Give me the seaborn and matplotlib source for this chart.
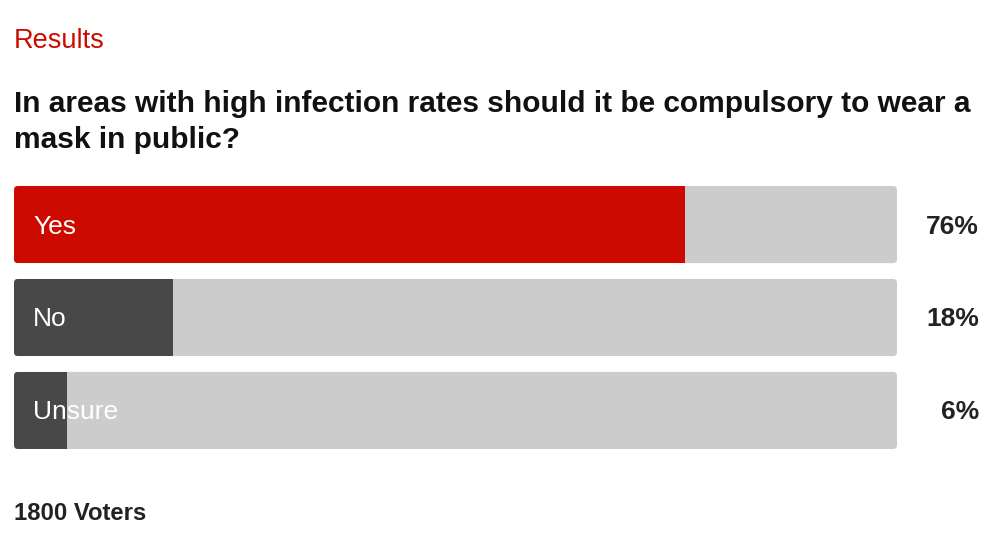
import matplotlib
matplotlib.use("Agg")
import matplotlib.pyplot as plt
from matplotlib.patches import FancyBboxPatch
import matplotlib.transforms as mtransforms
import seaborn as sns
import pandas as pd

categories = ["Yes", "No", "Unsure"]
values = [76, 18, 6]
pct_labels = ["76%", "18%", "6%"]
bar_colors = ["#cc0a00", "#484848", "#484848"]
voters_text = "1800 Voters"
title_text = "In areas with high infection rates should it be compulsory to wear a\nmask in public?"
header_text = "Results"

sns.set_theme(style="white")
plt.rcParams["font.family"] = ["Liberation Sans", "DejaVu Sans"]

W, H = 1000, 548
fig = plt.figure(figsize=(W / 100, H / 100), dpi=100)
left, right, top_px, bot_px = 14, 897, 186, 449
ax = fig.add_axes([left / W, 1 - bot_px / H, (right - left) / W, (bot_px - top_px) / H])

df = pd.DataFrame({"cat": categories, "val": values, "full": [100] * len(values)})

sns.barplot(data=df, x="full", y="cat", orient="h", color="#cccccc", width=0.83,
            saturation=1, ax=ax)
bg = list(ax.patches)
sns.barplot(data=df, x="val", y="cat", orient="h", hue="cat", palette=bar_colors,
            width=0.83, saturation=1, legend=False, ax=ax)
fg = [p for p in ax.patches if p not in bg]

ax.set_xlim(0, 100)
ax.set_ylim(2.415, -0.415)
ax.set_axis_off()

# rounded background bars
px_per_x = (right - left) / 100.0
px_per_y = (bot_px - top_px) / 2.83
r_px = 4
aspect = px_per_x / px_per_y
rounded = []
for p in bg:
    x0, y0 = p.get_x(), p.get_y()
    w, h = p.get_width(), p.get_height()
    p.remove()
    fp = FancyBboxPatch((x0, y0), w, h,
                        boxstyle=f"round,pad=0,rounding_size={r_px / px_per_x}",
                        mutation_aspect=aspect, facecolor="#cccccc", edgecolor="none",
                        zorder=1)
    ax.add_patch(fp)
    rounded.append(fp)

fg_sorted = sorted(fg, key=lambda p: p.get_y())
rounded_sorted = sorted(rounded, key=lambda p: p.get_y())
for p, rp in zip(fg_sorted, rounded_sorted):
    p.set_zorder(2)
    p.set_edgecolor("none")
    p.set_clip_path(rp)

trans = mtransforms.blended_transform_factory(ax.transAxes, ax.transData)
dy = 2.0 / px_per_y
for i, (cat, lab) in enumerate(zip(categories, pct_labels)):
    ax.text((33 - left) / px_per_x, i + dy, cat, color="white", fontsize=19,
            va="center", ha="left", zorder=3)
    ax.text((979 - left) / (right - left), i + dy, lab, transform=trans, color="#222222",
            fontsize=19, fontweight="bold", va="center", ha="right", zorder=3)

fig.text(14 / W, 1 - 41 / H, header_text, color="#cc0a00", fontsize=19.5,
         va="center", ha="left")
fig.text(14 / W, 1 - 122 / H, title_text, color="#111111", fontsize=21.5,
         fontweight="bold", va="center", ha="left", linespacing=1.32)
fig.text(14 / W, 1 - 514 / H, voters_text, color="#222222", fontsize=17.2,
         fontweight="bold", va="center", ha="left")

fig.savefig("out.png", dpi=100, facecolor="white")
